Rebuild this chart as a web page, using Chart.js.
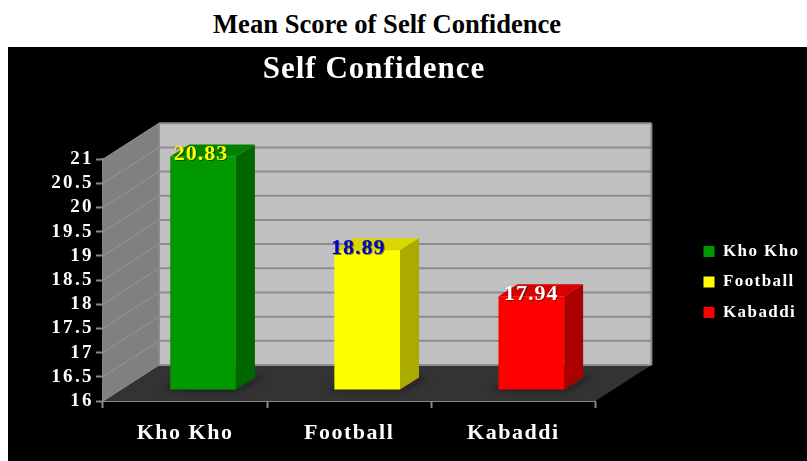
<!DOCTYPE html>
<html>
<head>
<meta charset="utf-8">
<title>Mean Score of Self Confidence</title>
<script src="https://cdn.jsdelivr.net/npm/chart.js@4"></script>
<style>
  html, body { margin: 0; padding: 0; background: #fff; overflow: hidden; }
  #heading {
    position: absolute; left: 213px; top: 9px; white-space: nowrap;
    font: bold 26.6px "Liberation Serif", serif; color: #000;
  }
  #panel { position: absolute; left: 8px; top: 47px; width: 799px; height: 414px; background: #000; }
  canvas { display: block; }
</style>
</head>
<body>
<div id="heading">Mean Score of Self Confidence</div>
<div id="panel"><canvas id="chart" width="799" height="414"></canvas></div>
<script>
const categories = ["Kho Kho", "Football", "Kabaddi"];
const scores = [20.83, 18.89, 17.94];
const yTickValues = [16, 16.5, 17, 17.5, 18, 18.5, 19, 19.5, 20, 20.5, 21];

const frontColors = ["#009900", "#ffff00", "#ff0000"];
const topColors = ["#008200", "#d8d800", "#d80000"];
const sideColors = ["#006600", "#aaaa00", "#aa0000"];
const labelColors = ["#ffff00", "#0000cc", "#ffffff"];
const labelNudge = [-2, -9, 0];

const serif = "'Liberation Serif', serif";
// depth of the box behind the front axes, and where the bars stand in it
const depth = { x: 56, y: -36 };
const barShift = { x: 18, y: -11 };
const barDepth = { x: 19, y: -12 };

function poly(ctx, pts, fill) {
  ctx.beginPath();
  pts.forEach((p, i) => (i ? ctx.lineTo(p[0], p[1]) : ctx.moveTo(p[0], p[1])));
  ctx.closePath();
  ctx.fillStyle = fill;
  ctx.fill();
}

function spaced(obj, method, px) {
  const orig = obj[method];
  obj[method] = function (...args) {
    this.ctx.letterSpacing = px + "px";
    orig.apply(this, args);
    this.ctx.letterSpacing = "0px";
  };
}

const layoutFix = {
  id: "layoutFix",
  afterLayout(chart) {
    // title is centred over the plot, legend sits in its own place on the right
    chart.titleBlock.left = 0;
    chart.titleBlock.right = 732;
    chart.legend.left = 682;
    chart.legend.right = 799;
    chart.legend.top = 0;
    chart.legend.bottom = 470;
    if (!chart.$spaced) {
      chart.$spaced = true;
      spaced(chart.titleBlock, "draw", 1);
      spaced(chart.legend, "draw", 1.4);
      spaced(chart.scales.x, "drawLabels", 1.5);
      spaced(chart.scales.y, "drawLabels", 2.4);
    }
  },
};

const box3d = {
  id: "box3d",
  beforeDatasetsDraw(chart) {
    const { ctx, scales: { x, y } } = chart;
    const l = x.left, r = x.right, b = y.bottom, t = y.top;
    const dx = depth.x, dy = depth.y;
    ctx.save();
    poly(ctx, [[l + dx, t + dy], [r + dx, t + dy], [r + dx, b + dy], [l + dx, b + dy]], "#c0c0c0");
    poly(ctx, [[l, t], [l + dx, t + dy], [l + dx, b + dy], [l, b]], "#808080");
    poly(ctx, [[l, b], [l + dx, b + dy], [r + dx, b + dy], [r, b]], "#333333");
    // grid lines from the y scale, along the side wall and back wall
    yTickValues.forEach((v) => {
      const py = y.getPixelForValue(v);
      ctx.lineWidth = 1;
      ctx.strokeStyle = "#969696";
      ctx.beginPath();
      ctx.moveTo(l, py);
      ctx.lineTo(l + dx, py + dy);
      ctx.stroke();
      ctx.lineWidth = 2;
      ctx.strokeStyle = "#8c8c8c";
      ctx.beginPath();
      ctx.moveTo(l + dx, py + dy);
      ctx.lineTo(r + dx, py + dy);
      ctx.stroke();
    });
    ctx.lineWidth = 2;
    ctx.strokeStyle = "#8c8c8c";
    ctx.beginPath();
    ctx.moveTo(l + dx, t + dy);
    ctx.lineTo(l + dx, b + dy);
    ctx.moveTo(r + dx, t + dy);
    ctx.lineTo(r + dx, b + dy);
    ctx.stroke();

    // floor shadow, then top and side faces of each bar
    chart.getDatasetMeta(0).data.forEach((bar, i) => {
      const x0 = bar.x - bar.width / 2 + barShift.x;
      const x1 = bar.x + bar.width / 2 + barShift.x;
      const top = bar.y + barShift.y;
      const base = bar.base + barShift.y;
      const ddx = barDepth.x, ddy = barDepth.y;
      ctx.save();
      ctx.shadowColor = "rgba(0,0,0,0.55)";
      ctx.shadowBlur = 7;
      poly(ctx, [[x0 - 6, base], [x0 + ddx, base + ddy], [x1 + ddx + 8, base + ddy], [x1, base + 1]], "#2a2a2a");
      ctx.restore();
      poly(ctx, [[x0, top], [x0 + ddx, top + ddy], [x1 + ddx, top + ddy], [x1, top]], topColors[i]);
      poly(ctx, [[x1, top], [x1 + ddx, top + ddy], [x1 + ddx, base + ddy], [x1, base]], sideColors[i]);
    });
    ctx.restore();
  },
  beforeDatasetDraw(chart) {
    chart.ctx.save();
    chart.ctx.translate(barShift.x, barShift.y);
  },
  afterDatasetDraw(chart) {
    chart.ctx.restore();
  },
  afterDatasetsDraw(chart) {
    const { ctx } = chart;
    ctx.save();
    ctx.font = "bold 22px " + serif;
    ctx.textAlign = "center";
    ctx.textBaseline = "middle";
    ctx.letterSpacing = "1px";
    chart.getDatasetMeta(0).data.forEach((bar, i) => {
      const px = bar.x + barShift.x + labelNudge[i];
      const py = bar.y + barShift.y - 2;
      ctx.fillStyle = "rgba(0,0,0,0.45)";
      ctx.fillText(scores[i].toFixed(2), px + 1, py + 1);
      ctx.fillStyle = labelColors[i];
      ctx.fillText(scores[i].toFixed(2), px, py);
    });
    ctx.restore();
  },
};

new Chart(document.getElementById("chart"), {
  type: "bar",
  data: {
    labels: categories,
    datasets: [{
      label: "Self Confidence",
      data: scores,
      base: yTickValues[0],
      backgroundColor: frontColors,
      borderWidth: 0,
      categoryPercentage: 0.4,
      barPercentage: 1,
      clip: false,
    }],
  },
  options: {
    responsive: false,
    animation: false,
    events: [],
    layout: { padding: { right: 102 } },
    scales: {
      x: {
        grid: { drawOnChartArea: false, color: "#888888", tickLength: 7, tickWidth: 2, offset: true },
        border: { color: "#888888", width: 2 },
        ticks: { color: "#ffffff", font: { family: serif, weight: "bold", size: 22 }, padding: 12, maxRotation: 0 },
        afterFit(scale) { scale.height = 60; },
      },
      y: {
        min: 16,
        max: 21,
        afterBuildTicks(scale) { scale.ticks = yTickValues.map((value) => ({ value })); },
        grid: { drawOnChartArea: false, color: "#888888", tickLength: 7, tickWidth: 2 },
        border: { color: "#888888", width: 2 },
        ticks: {
          color: "#ffffff",
          font: { family: serif, weight: "bold", size: 19 },
          padding: 2,
          autoSkip: false,
          callback: (v) => String(v),
        },
        afterFit(scale) { scale.width = 95; },
      },
    },
    plugins: {
      tooltip: { enabled: false },
      title: {
        display: true,
        text: "Self Confidence",
        color: "#ffffff",
        font: { family: serif, weight: "bold", size: 31 },
        padding: { top: 4, bottom: 71 },
      },
      legend: {
        position: "right",
        labels: {
          color: "#ffffff",
          font: { family: serif, weight: "bold", size: 17 },
          boxWidth: 11,
          boxHeight: 11,
          padding: 13.5,
          generateLabels: () => categories.map((text, i) => ({
            text,
            fillStyle: frontColors[i],
            strokeStyle: frontColors[i],
            lineWidth: 0,
            fontColor: "#ffffff",
            index: i,
          })),
        },
      },
    },
  },
  plugins: [layoutFix, box3d],
});
</script>
</body>
</html>
